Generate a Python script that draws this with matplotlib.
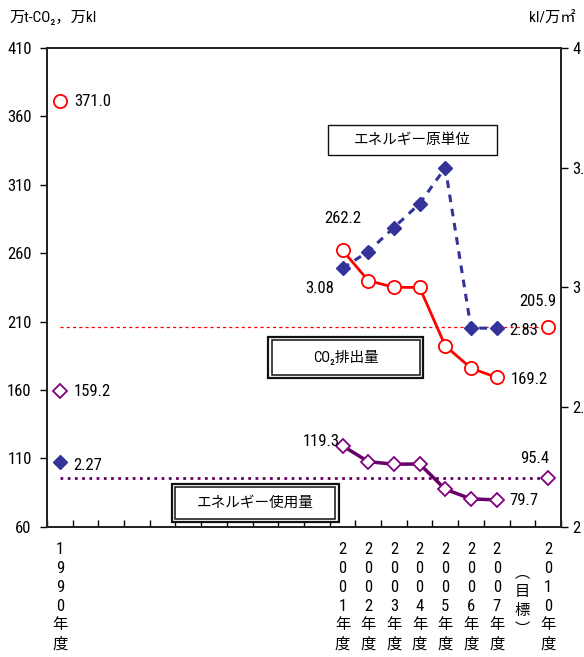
import numpy as np
import matplotlib
matplotlib.use('Agg')
import matplotlib.pyplot as plt
from matplotlib import transforms
from matplotlib.patches import Rectangle

plt.rcParams['font.family'] = ['Roboto Condensed', 'Noto Sans CJK JP', 'DejaVu Sans']

# fiscal-year slots on the x axis (1991-2000 are empty slots)
categories = ['1990'] + [str(y) for y in range(1991, 2001)] + \
             [str(y) for y in range(2001, 2008)] + ['target_note', '2010']
recent_years = [str(y) for y in range(2001, 2008)]

# CO2 emissions (万t-CO2)
co2_1990 = 371.0
co2_recent = [262.2, 240.0, 235.1, 235.0, 192.3, 176.0, 169.2]
co2_2010 = 205.9

# energy use (万kl)
energy_1990 = 159.2
energy_recent = [119.3, 107.7, 105.8, 106.0, 87.5, 80.5, 79.7]
energy_2010 = 95.4

# energy intensity (kl/万m2)
intensity_1990 = 2.27
intensity_recent = [3.08, 3.15, 3.25, 3.35, 3.50, 2.83, 2.83]

left_ticks = [60, 110, 160, 210, 260, 310, 360, 410]
right_ticks = [2, 2.5, 3, 3.5, 4]
right_tick_labels = ['2', '2.5', '3', '3.5', '4']

RED = '#FF0000'
NAVY = '#333399'
PURPLE = '#800080'
NUM_FS = 12
JP_FS = 11

pos = {c: i for i, c in enumerate(categories)}
x_1990 = pos['1990']
x_2010 = pos['2010']
x_recent = [pos[y] for y in recent_years]

fig = plt.figure(figsize=(5.84, 6.57), dpi=100)
ax = fig.add_axes([0.0805, 0.198, 0.88, 0.729])
ax2 = ax.twinx()

ax.set_xlim(-0.5, len(categories) - 0.5)
ax.set_ylim(60, 410)
ax2.set_ylim(2, 4)

# target level guide lines
ax.plot([x_1990, x_2010], [co2_2010, co2_2010], color=RED, lw=0.9,
        dashes=(2.5, 2.5), zorder=2)
ax.plot([x_1990, x_2010], [energy_2010, energy_2010], color='#660066', lw=2,
        dashes=(1, 1.6), zorder=2)

# CO2 emissions
ax.plot(x_recent, co2_recent, color=RED, lw=2, marker='o', ms=9.5,
        mfc='white', mec=RED, mew=1.3, zorder=4)
ax.plot([x_1990, x_2010], [co2_1990, co2_2010], ls='none', marker='o', ms=9.5,
        mfc='white', mec=RED, mew=1.3, zorder=4)

# energy use
ax.plot(x_recent, energy_recent, color='#660066', lw=2.5, marker='D', ms=7.5,
        mfc='white', mec=PURPLE, mew=1.3, zorder=4)
ax.plot([x_1990, x_2010], [energy_1990, energy_2010], ls='none', marker='D',
        ms=7.5, mfc='white', mec=PURPLE, mew=1.3, zorder=4)

# energy intensity on the right axis
ax2.plot(x_recent, intensity_recent, color=NAVY, lw=2.2, dashes=(2.5, 2.2),
         marker='D', ms=7.5, mfc=NAVY, mec=NAVY, zorder=4)
ax2.plot([x_1990], [intensity_1990], ls='none', marker='D', ms=7.5,
         mfc=NAVY, mec=NAVY, zorder=4)


def label(a, x, y, text, dx, dy, ha='left'):
    a.annotate(text, (x, y), xytext=(dx, -dy), textcoords='offset pixels',
               ha=ha, va='center', fontsize=NUM_FS, zorder=6)


label(ax, x_1990, co2_1990, f'{co2_1990:.1f}', 14, 0)
label(ax, x_1990, energy_1990, f'{energy_1990:.1f}', 14, 0)
label(ax2, x_1990, intensity_1990, f'{intensity_1990:.2f}', 13, 3)
label(ax, x_recent[0], co2_recent[0], f'{co2_recent[0]:.1f}', 0, -32, 'center')
label(ax2, x_recent[0], intensity_recent[0], f'{intensity_recent[0]:.2f}', -8, 20, 'right')
label(ax, x_recent[0], energy_recent[0], f'{energy_recent[0]:.1f}', -3, -4, 'right')
label(ax, x_recent[-1], co2_recent[-1], f'{co2_recent[-1]:.1f}', 14, 2)
label(ax2, x_recent[-1], intensity_recent[-1], f'{intensity_recent[-1]:.2f}', 13, 2)
label(ax, x_recent[-1], energy_recent[-1], f'{energy_recent[-1]:.1f}', 13, 1)
label(ax, x_2010, co2_2010, f'{co2_2010:.1f}', -10, -26, 'center')
label(ax, x_2010, energy_2010, f'{energy_2010:.1f}', -13, -20, 'center')

# axes styling
for a in (ax, ax2):
    for s in a.spines.values():
        s.set_linewidth(1.3)
        s.set_color('#222222')
ax.set_yticks(left_ticks)
ax.set_yticklabels([str(t) for t in left_ticks], fontsize=NUM_FS)
ax.tick_params(axis='y', direction='out', length=5, width=1, pad=6)
ax2.set_yticks(right_ticks)
ax2.set_yticklabels(right_tick_labels, fontsize=NUM_FS)
ax2.tick_params(axis='y', direction='out', length=5, width=1, pad=3)
ax.set_xticks(np.arange(-0.5, len(categories), 1))
ax.set_xticklabels([])
ax.tick_params(axis='x', direction='in', length=5, width=1)

# year labels written top to bottom
trans = transforms.blended_transform_factory(ax.transData, fig.transFigure)
for c, i in pos.items():
    if c == 'target_note':
        chars = ['︵', '目', '標', '︶']
        y0 = 0.128
    elif c in ('1990', '2010') or c in recent_years:
        chars = list(c) + ['年', '度']
        y0 = 0.164
    else:
        continue
    for k, ch in enumerate(chars):
        ax.text(i, y0 - k * 0.029, ch, transform=trans, ha='center',
                va='center', fontsize=NUM_FS if ch.isdigit() else JP_FS,
                clip_on=False)


def box(x0, y0, x1, y1, text, double):
    ax.add_patch(Rectangle((x0, y0), x1 - x0, y1 - y0, transform=ax.transAxes,
                           fc='white', ec='#111111', lw=1.6 if double else 1,
                           zorder=7, clip_on=False))
    if double:
        ix, iy = 0.007, 0.0065
        ax.add_patch(Rectangle((x0 + ix, y0 + iy), x1 - x0 - 2 * ix,
                               y1 - y0 - 2 * iy, transform=ax.transAxes,
                               fc='white', ec='#111111', lw=1.1, zorder=7,
                               clip_on=False))
    ax.text((x0 + x1) / 2, (y0 + y1) / 2, text, transform=ax.transAxes,
            ha='center', va='center', fontsize=10.5, zorder=8)


box(0.547, 0.777, 0.875, 0.839, 'エネルギー原単位', False)
box(0.430, 0.311, 0.732, 0.397, 'CO₂排出量', True)
box(0.243, 0.011, 0.568, 0.090, 'エネルギー使用量', True)

fig.text(0.017, 0.973, '万t-CO₂，万kl', fontsize=JP_FS, va='center')
fig.text(0.905, 0.973, 'kl/万㎡', fontsize=JP_FS, va='center')

fig.savefig('out.png', dpi=100, facecolor='white')
